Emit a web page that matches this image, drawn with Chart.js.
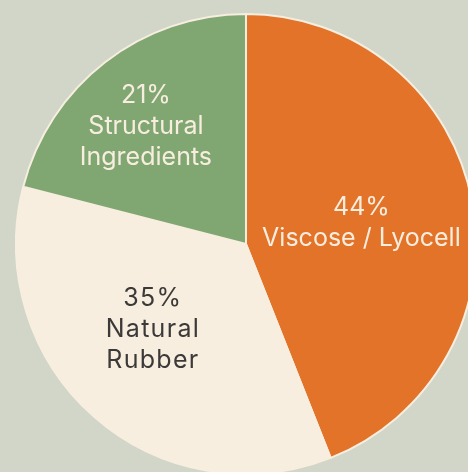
<!DOCTYPE html>
<html>
<head>
<meta charset="utf-8">
<script src="https://cdn.jsdelivr.net/npm/chart.js@4"></script>
<style>
  html, body { margin: 0; padding: 0; width: 468px; height: 472px; overflow: hidden; background: #d1d6c9; }
  .wrap { position: absolute; left: 15px; top: 13px; width: 462px; height: 462px; }
</style>
</head>
<body>
<div class="wrap"><canvas id="pie"></canvas></div>
<script>
const categories = ["Viscose / Lyocell", "Natural Rubber", "Structural Ingredients"];
const shares = [44, 35, 21];
const labelLines = [["Viscose / Lyocell"], ["Natural", "Rubber"], ["Structural", "Ingredients"]];

const sliceColors = ["#e27329", "#f7eedf", "#80a772"];
const textColors = ["#f8eee0", "#3b3a38", "#f8eee0"];
const textSpacing = ["0px", "1.3px", "0px"];

// nudges so the text sits where the original put it (angle in degrees, radius as share of R)
const labelPlacement = [
  { turn: 0.5, reach: 0.51 },
  { turn: 6, reach: 0.55 },
  { turn: -2.7, reach: 0.67 },
];

const sliceLabels = {
  id: "sliceLabels",
  afterDatasetsDraw(chart) {
    const { ctx } = chart;
    const meta = chart.getDatasetMeta(0);
    ctx.save();
    ctx.font = "400 25px Inter, 'Noto Sans', sans-serif";
    ctx.textAlign = "center";
    ctx.textBaseline = "middle";
    meta.data.forEach((arc, i) => {
      const p = arc.getProps(["x", "y", "startAngle", "endAngle", "outerRadius"], true);
      const place = labelPlacement[i];
      const angle = (p.startAngle + p.endAngle) / 2 + (place.turn * Math.PI) / 180;
      const r = p.outerRadius * place.reach;
      const cx = p.x + Math.cos(angle) * r;
      const cy = p.y + Math.sin(angle) * r;
      const lines = [`${shares[i]}%`, ...labelLines[i]];
      const lineHeight = 31;
      const top = cy - ((lines.length - 1) * lineHeight) / 2;
      ctx.fillStyle = textColors[i];
      ctx.letterSpacing = textSpacing[i];
      lines.forEach((line, j) => ctx.fillText(line, cx, top + j * lineHeight));
    });
    ctx.restore();
  },
};

new Chart(document.getElementById("pie"), {
  type: "pie",
  data: {
    labels: categories,
    datasets: [
      {
        data: shares,
        backgroundColor: sliceColors,
        borderColor: "#f7eedf",
        borderWidth: 2,
      },
    ],
  },
  options: {
    responsive: true,
    maintainAspectRatio: false,
    animation: false,
    layout: { padding: 0 },
    plugins: {
      legend: { display: false },
      tooltip: { enabled: false },
    },
  },
  plugins: [sliceLabels],
});
</script>
</body>
</html>
